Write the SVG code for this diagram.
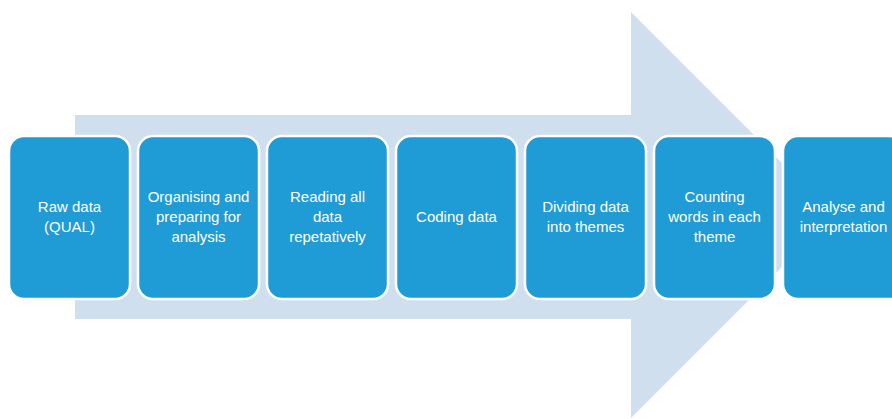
<svg xmlns="http://www.w3.org/2000/svg" width="892" height="419" viewBox="0 0 892 419">
<style>
.box{fill:#1F9BD6;stroke:#fff;stroke-width:2.5}
.t{font-family:"Liberation Sans",Arial,sans-serif;font-size:15px;fill:#fff;text-anchor:middle}
</style>
<rect width="892" height="419" fill="#fff"/>
<g id="arrow">
<polygon points="75,115 631,115 631,12 834,215 631,418 631,319 75,319" fill="#CFDFEE"/>
</g>
<g id="n1"><rect class="box" x="9" y="136" width="121" height="163" rx="15"/><text class="t" x="69.5" y="212">Raw data</text><text class="t" x="69.5" y="232">(QUAL)</text></g>
<g id="n2"><rect class="box" x="138" y="136" width="121" height="163" rx="15"/><text class="t" x="198.5" y="202">Organising and</text><text class="t" x="198.5" y="222">preparing for</text><text class="t" x="198.5" y="242">analysis</text></g>
<g id="n3"><rect class="box" x="267" y="136" width="121" height="163" rx="15"/><text class="t" x="327.5" y="202">Reading all</text><text class="t" x="327.5" y="222">data</text><text class="t" x="327.5" y="242">repetatively</text></g>
<g id="n4"><rect class="box" x="396" y="136" width="121" height="163" rx="15"/><text class="t" x="456.5" y="222">Coding data</text></g>
<g id="n5"><rect class="box" x="525" y="136" width="121" height="163" rx="15"/><text class="t" x="585.5" y="212">Dividing data</text><text class="t" x="585.5" y="232">into themes</text></g>
<g id="n6"><rect class="box" x="654" y="136" width="121" height="163" rx="15"/><text class="t" x="714.5" y="202">Counting</text><text class="t" x="714.5" y="222">words in each</text><text class="t" x="714.5" y="242">theme</text></g>
<g id="n7"><rect class="box" x="783" y="136" width="121" height="163" rx="15"/><text class="t" x="843.5" y="212">Analyse and</text><text class="t" x="843.5" y="232">interpretation</text></g>
<g id="connectors"></g>
</svg>
